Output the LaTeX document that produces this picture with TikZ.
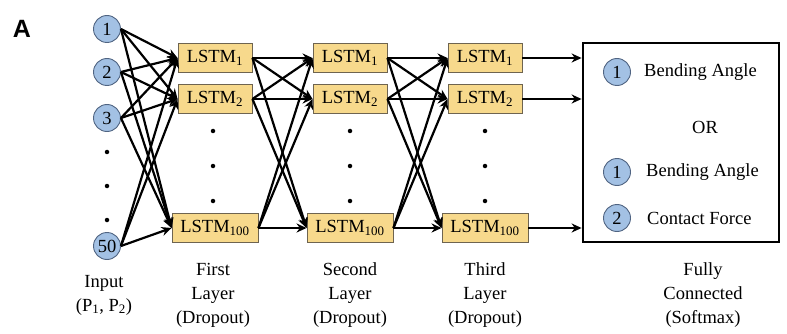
\documentclass[tikz,border=0pt]{standalone}
\usepackage{fontspec}
\setmainfont{Liberation Serif}
\newfontfamily\headfont{Liberation Sans}
\usetikzlibrary{arrows.meta}
\definecolor{cfill}{RGB}{163,193,228}
\definecolor{cdraw}{RGB}{80,100,130}
\definecolor{bfill}{RGB}{247,217,140}
\definecolor{bdraw}{RGB}{110,100,80}
\begin{document}
\begin{tikzpicture}[x=1pt,y=-1pt,
  txt/.style={font=\fontsize{18.5}{24}\selectfont},
  inp/.style={circle, draw=cdraw, fill=cfill, line width=0.9pt, minimum size=27pt, inner sep=0pt, txt},
  lstm/.style={draw=bdraw, fill=bfill, line width=0.9pt, minimum height=29pt, minimum width=74pt, inner sep=0pt, txt},
  lstmw/.style={lstm, minimum width=86pt},
  conn/.style={line width=2.2pt, -{Stealth[length=10pt,width=9pt]}},
  dotn/.style={circle, fill=black, inner sep=0pt, minimum size=4.5pt},
  lab/.style={txt, align=center},
  otxt/.style={txt, anchor=west, inner sep=0pt}]
\useasboundingbox (0,0) rectangle (787,334);

\node[font=\headfont\bfseries\fontsize{25}{25}\selectfont] (A) at (22,29) {A};

% input
\node[inp] (i1) at (107,29) {1};
\node[inp] (i2) at (107,72) {2};
\node[inp] (i3) at (107,118) {3};
\node[inp] (i50) at (107,246) {50};
\node[dotn] (di1) at (107,152) {};
\node[dotn] (di2) at (107,186) {};
\node[dotn] (di3) at (107,220) {};

% layers
\node[lstm] (a1) at (215,58) {LSTM\textsubscript{1}};
\node[lstm] (a2) at (215,99) {LSTM\textsubscript{2}};
\node[lstmw] (a3) at (215,228) {LSTM\textsubscript{100}};
\node[lstm] (b1) at (350,58) {LSTM\textsubscript{1}};
\node[lstm] (b2) at (350,99) {LSTM\textsubscript{2}};
\node[lstmw] (b3) at (350,228) {LSTM\textsubscript{100}};
\node[lstm] (c1) at (485,58) {LSTM\textsubscript{1}};
\node[lstm] (c2) at (485,99) {LSTM\textsubscript{2}};
\node[lstmw] (c3) at (485,228) {LSTM\textsubscript{100}};
\foreach \x/\n in {213/a,350/b,485/c}{
  \node[dotn] (\n d1) at (\x,131) {};
  \node[dotn] (\n d2) at (\x,166) {};
  \node[dotn] (\n d3) at (\x,201) {};
}

% output box
\node[draw, line width=2.8pt, fill=white, minimum width=196pt, minimum height=199pt, inner sep=0pt] (out) at (681,142.5) {};
\node[inp] (o1) at (617,72) {1};
\node[otxt] (t1) at (644,72) {Bending Angle};
\node[txt] (or) at (705,127) {OR};
\node[inp] (o2) at (617,172) {1};
\node[otxt] (t2) at (646,172) {Bending Angle};
\node[inp] (o3) at (617,218) {2};
\node[otxt] (t3) at (647,218) {Contact Force};

% connectors
\foreach \s in {i1,i2,i3,i50}
  \foreach \t in {a1,a2,a3}
    \draw[conn] (\s.east) -- (\t.west);
\foreach \s in {a1,a2,a3}
  \foreach \t in {b1,b2,b3}
    \draw[conn] (\s.east) -- (\t.west);
\foreach \s in {b1,b2,b3}
  \foreach \t in {c1,c2,c3}
    \draw[conn] (\s.east) -- (\t.west);
\foreach \s in {c1,c2,c3}
  \draw[conn] (\s.east) -- (\s.east -| out.west);

% labels
\node[lab] (lin) at (104,295) {Input\\(P\textsubscript{1}, P\textsubscript{2})};
\node[lab] (l1) at (213,295) {First\\Layer\\(Dropout)};
\node[lab] (l2) at (350,295) {Second\\Layer\\(Dropout)};
\node[lab] (l3) at (485,295) {Third\\Layer\\(Dropout)};
\node[lab] (l4) at (703,295) {Fully\\Connected\\(Softmax)};
\end{tikzpicture}
\end{document}
